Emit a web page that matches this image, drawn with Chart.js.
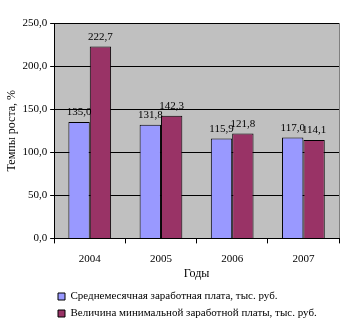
<!DOCTYPE html>
<html>
<head>
<meta charset="utf-8">
<script src="https://cdn.jsdelivr.net/npm/chart.js@4"></script>
<style>
  html, body { margin: 0; padding: 0; background: #fff; }
  #wrap { width: 361px; height: 331px; }
</style>
</head>
<body>
<div id="wrap"><canvas id="myChart"></canvas></div>
<script>
const years = ["2004", "2005", "2006", "2007"];
const avgSalary = [135.0, 131.8, 115.9, 117.0];
const minSalary = [222.7, 142.3, 121.8, 114.1];
const yTicks = [0, 50, 100, 150, 200, 250];

const fmt = v => v.toFixed(1).replace('.', ',');
const FONT = "'Liberation Serif', 'Times New Roman', serif";
Chart.defaults.font.family = FONT;

// grey plot area
const plotBg = {
    id: 'plotBg',
    beforeDraw(chart) {
        const { ctx, chartArea: a } = chart;
        ctx.save();
        ctx.fillStyle = '#c0c0c0';
        ctx.fillRect(a.left, a.top, a.right - a.left, a.bottom - a.top);
        ctx.strokeStyle = '#808080';
        ctx.lineWidth = 1;
        ctx.beginPath();
        ctx.moveTo(a.right + 0.5, a.top);
        ctx.lineTo(a.right + 0.5, a.bottom);
        ctx.stroke();
        ctx.restore();
    }
};

// values above bars
const barLabels = {
    id: 'barLabels',
    afterDatasetsDraw(chart) {
        const ctx = chart.ctx;
        ctx.save();
        ctx.font = '11px ' + FONT;
        ctx.fillStyle = '#000';
        ctx.textAlign = 'center';
        ctx.textBaseline = 'bottom';
        chart.data.datasets.forEach((ds, i) => {
            chart.getDatasetMeta(i).data.forEach((bar, j) => {
                ctx.fillText(fmt(ds.data[j]), bar.x, bar.y - 4);
            });
        });
        ctx.restore();
    }
};

// push legend right so it starts under the plot
const legendShift = {
    id: 'legendShift',
    afterLayout(chart) {
        if (chart.legend) {
            chart.legend.left = 52;
            chart.legend.adjustHitBoxes();
        }
    }
};

new Chart(document.getElementById('myChart').getContext('2d'), {
    type: 'bar',
    data: {
        labels: years,
        datasets: [
            {
                label: 'Среднемесячная заработная плата, тыс. руб.',
                data: avgSalary,
                backgroundColor: '#9999ff',
                borderColor: '#000',
                borderWidth: 1,
                barPercentage: 1,
                categoryPercentage: 0.6
            },
            {
                label: 'Величина минимальной заработной платы, тыс. руб.',
                data: minSalary,
                backgroundColor: '#993366',
                borderColor: '#000',
                borderWidth: 1,
                barPercentage: 1,
                categoryPercentage: 0.6
            }
        ]
    },
    options: {
        responsive: true,
        maintainAspectRatio: false,
        animation: false,
        layout: { padding: { top: 23, right: 22, left: 5, bottom: 2 } },
        plugins: {
            tooltip: { enabled: false },
            legend: {
                position: 'bottom',
                align: 'start',
                labels: {
                    font: { family: FONT, size: 11 },
                    color: '#000',
                    boxWidth: 7,
                    boxHeight: 7,
                    padding: 6
                }
            }
        },
        scales: {
            x: {
                grid: {
                    offset: true,
                    drawOnChartArea: false,
                    color: '#000',
                    tickLength: 5
                },
                border: { color: '#000' },
                ticks: { color: '#000', font: { family: FONT, size: 11 }, padding: 9 },
                title: {
                    display: true,
                    text: 'Годы',
                    color: '#000',
                    font: { family: FONT, size: 12 },
                    padding: { top: -8, bottom: 4 }
                }
            },
            y: {
                min: 0,
                max: 250,
                afterBuildTicks: axis => { axis.ticks = yTicks.map(v => ({ value: v })); },
                grid: { color: '#000', tickLength: 4 },
                border: { color: '#000' },
                ticks: {
                    color: '#000',
                    font: { family: FONT, size: 11 },
                    padding: 3,
                    callback: v => fmt(v)
                },
                title: {
                    display: true,
                    text: 'Темпы роста, %',
                    color: '#000',
                    font: { family: FONT, size: 12 },
                    padding: { top: 0, bottom: 0 }
                }
            }
        }
    },
    plugins: [plotBg, barLabels, legendShift]
});
</script>
</body>
</html>
